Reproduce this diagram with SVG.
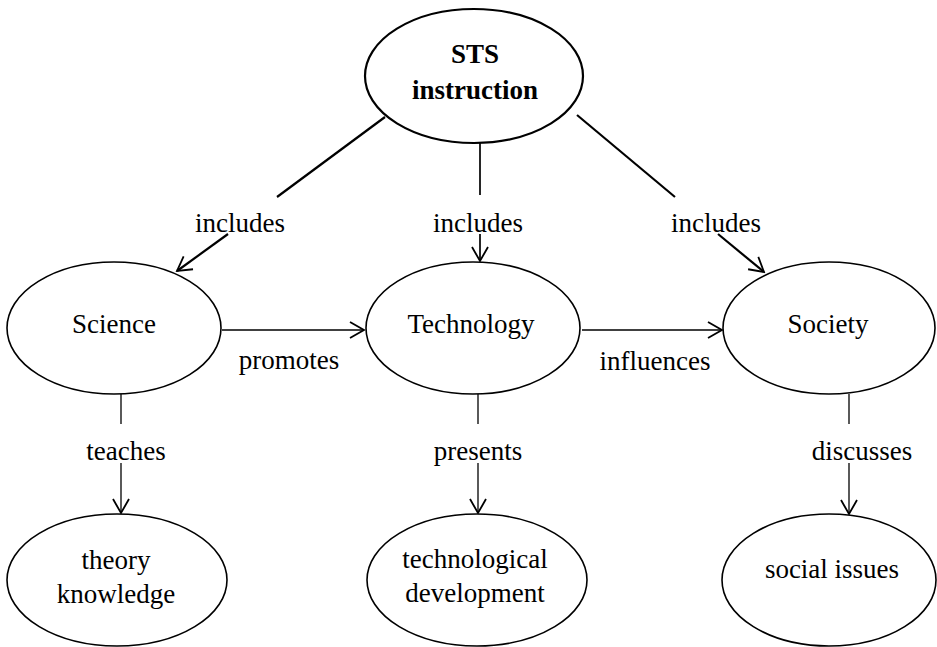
<svg xmlns="http://www.w3.org/2000/svg" width="937" height="647" viewBox="0 0 937 647">
<style>
.node ellipse{fill:#fff;stroke:#000;stroke-width:1.6}
.node text{font-family:"Liberation Serif","Times New Roman",serif;font-size:27px;text-anchor:middle;fill:#000}
.lbl{font-family:"Liberation Serif","Times New Roman",serif;font-size:27px;text-anchor:middle;fill:#000}
.c{stroke:#000;fill:none}
.thick{stroke-width:2.2}
.mid{stroke-width:1.7}
.thin{stroke-width:1.3}
</style>
<defs>
<marker id="ah" markerUnits="userSpaceOnUse" viewBox="-16 -10 18 20" refX="0" refY="0" markerWidth="18" markerHeight="20" orient="auto">
<path d="M-14,-8 L0,0 L-14,8" fill="none" stroke="#000" stroke-width="1.8"/>
</marker>
</defs>
<rect width="937" height="647" fill="#fff"/>
<g id="connectors">
<line class="c thick" x1="385" y1="117" x2="277" y2="197"/>
<line class="c thick" x1="228" y1="234" x2="177" y2="271" marker-end="url(#ah)"/>
<line class="c mid" x1="480" y1="143" x2="480" y2="195"/>
<line class="c mid" x1="480" y1="234" x2="480" y2="261" marker-end="url(#ah)"/>
<line class="c thick" x1="577" y1="115" x2="675" y2="197"/>
<line class="c thick" x1="718" y1="234" x2="764" y2="272" marker-end="url(#ah)"/>
<line class="c mid" x1="222" y1="330" x2="364" y2="330" marker-end="url(#ah)"/>
<line class="c mid" x1="582" y1="330" x2="722" y2="330" marker-end="url(#ah)"/>
<line class="c thin" x1="121" y1="394" x2="121" y2="424"/>
<line class="c thin" x1="121" y1="463" x2="121" y2="513" marker-end="url(#ah)"/>
<line class="c thin" x1="478" y1="394" x2="478" y2="424"/>
<line class="c thin" x1="478" y1="463" x2="478" y2="513" marker-end="url(#ah)"/>
<line class="c thin" x1="849" y1="394" x2="849" y2="424"/>
<line class="c thin" x1="849" y1="463" x2="849" y2="514" marker-end="url(#ah)"/>
<text class="lbl" x="240" y="232">includes</text>
<text class="lbl" x="478" y="232">includes</text>
<text class="lbl" x="716" y="232">includes</text>
<text class="lbl" x="289" y="369">promotes</text>
<text class="lbl" x="655" y="370">influences</text>
<text class="lbl" x="126" y="460">teaches</text>
<text class="lbl" x="478" y="460">presents</text>
<text class="lbl" x="862" y="460">discusses</text>
</g>
<g id="sts" class="node">
<ellipse cx="474" cy="76" rx="109" ry="67" style="stroke-width:2.2"/>
<text x="475" y="63" font-weight="bold">STS</text>
<text x="475" y="99" font-weight="bold">instruction</text>
</g>
<g id="science" class="node">
<ellipse cx="114" cy="328" rx="107" ry="66"/>
<text x="114" y="333">Science</text>
</g>
<g id="technology" class="node">
<ellipse cx="473" cy="328" rx="107" ry="66"/>
<text x="471" y="333">Technology</text>
</g>
<g id="society" class="node">
<ellipse cx="829" cy="328" rx="106" ry="66"/>
<text x="828" y="333">Society</text>
</g>
<g id="theory" class="node">
<ellipse cx="117" cy="580" rx="110" ry="66"/>
<text x="116" y="569">theory</text>
<text x="116" y="603">knowledge</text>
</g>
<g id="techdev" class="node">
<ellipse cx="477" cy="580" rx="110" ry="66"/>
<text x="475" y="568">technological</text>
<text x="475" y="602">development</text>
</g>
<g id="social" class="node">
<ellipse cx="829" cy="580" rx="107" ry="66"/>
<text x="832" y="578">social issues</text>
</g>
</svg>
